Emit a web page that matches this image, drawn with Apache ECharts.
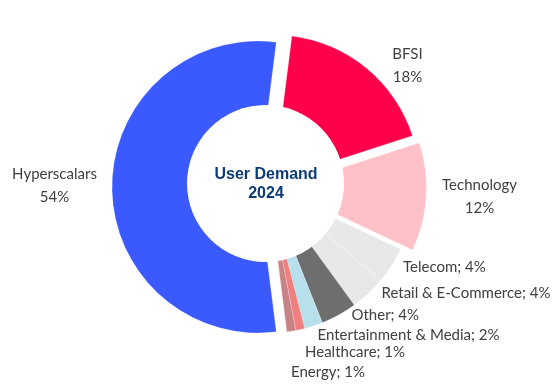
<!DOCTYPE html>
<html><head><meta charset="utf-8">
<script src="https://cdn.jsdelivr.net/npm/echarts@6/dist/echarts.min.js"></script>
<style>html,body{margin:0;padding:0;background:#fff}#c{width:560px;height:392px}</style>
</head><body><div id="c"></div>
<script>
const categories = ['BFSI','Technology','Telecom','Retail & E-Commerce','Other','Entertainment & Media','Healthcare','Energy','Hyperscalars'];
const values = [18, 12, 4, 4, 4, 2, 1, 1, 54];
const colors = ['#FF004B','#FFC1C8','#E8E8E8','#E8E8E8','#6E6E6E','#B6E0EC','#F07F7F','#C88484','#3A59FF'];
const explode = [8, 12, 0, 0, 0, 0, 0, 0, 10.5];
const twoLineLabels = ['BFSI','Technology','Hyperscalars'];
const centerTitle = 'User Demand\n2024';
// label anchor [x, y, align]
const labelAnchors = [
  [407.5, 66, 'center'],
  [479.5, 197, 'center'],
  [403, 267, 'left'],
  [381.5, 293, 'left'],
  [351.5, 315, 'left'],
  [317.5, 335, 'left'],
  [305, 352, 'left'],
  [291, 372, 'left'],
  [54.5, 186, 'center']
];

const PIE_CX = 268.5, PIE_CY = 187, PIE_R = 146, START = 82.8;
const total = values.reduce((a, b) => a + b, 0);
let acc = 0;
const mids = values.map(v => { const m = (90 - START) + (acc + v / 2) / total * 360; acc += v; return m * Math.PI / 180; });

const labelFont = { fontFamily: 'Lato', fontSize: 15, color: '#404040', lineHeight: 23 };

const series = categories.map((name, i) => {
  const dx = Math.sin(mids[i]) * explode[i];
  const dy = -Math.cos(mids[i]) * explode[i];
  return {
    type: 'pie',
    center: [PIE_CX + dx, PIE_CY + dy],
    radius: [0, PIE_R],
    startAngle: START,
    clockwise: true,
    avoidLabelOverlap: false,
    silent: true,
    animation: false,
    labelLine: { show: false },
    emphasis: { disabled: true },
    label: Object.assign({
      position: 'outside',
      formatter: p => twoLineLabels.includes(p.name) ? p.name + '\n' + p.value + '%' : p.name + '; ' + p.value + '%'
    }, labelFont),
    labelLayout: params => {
      if (params.dataIndex !== i) return {};
      const a = labelAnchors[i];
      return { x: a[0], y: a[1], align: a[2], verticalAlign: 'middle' };
    },
    data: categories.map((c, j) => ({
      name: c,
      value: values[j],
      itemStyle: j === i
        ? { color: colors[j], borderColor: 'rgba(255,255,255,0.45)', borderWidth: 0.5 }
        : { color: 'rgba(0,0,0,0)', borderWidth: 0 },
      label: { show: j === i }
    }))
  };
});

const chart = echarts.init(document.getElementById('c'), null, { renderer: 'canvas' });
chart.setOption({
  animation: false,
  series: series,
  graphic: [
    { type: 'circle', z: 100, silent: true, shape: { cx: 265.5, cy: 183.5, r: 78.5 }, style: { fill: '#ffffff' } },
    { type: 'text', z: 101, silent: true, x: 266, y: 184,
      style: { text: centerTitle, align: 'center', verticalAlign: 'middle', font: 'bold 16px "Liberation Sans"', lineHeight: 19, fill: '#0D3B78' } }
  ]
});
</script></body></html>
